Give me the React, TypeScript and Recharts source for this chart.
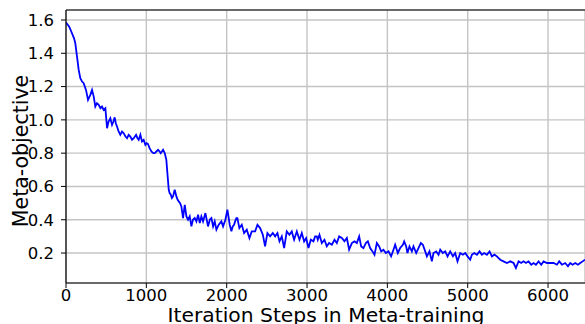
import React from "react";
import { LineChart, Line, XAxis, YAxis, CartesianGrid, ReferenceLine, Label } from "recharts";

const steps = [
  0, 40, 75, 100, 116, 137, 158, 178, 200, 220, 249, 274, 303, 324, 345, 365, 385, 407, 428, 448,
  469, 490, 511, 530, 552, 573, 590, 606, 620, 635, 655, 676, 697, 718, 740, 760, 780, 801, 822, 843,
  872, 890, 905, 926, 946, 967, 988, 1005, 1021, 1040, 1063, 1087, 1104, 1125, 1146, 1165, 1179, 1194, 1208, 1229,
  1249, 1262, 1279, 1290, 1304, 1318, 1332, 1353, 1374, 1390, 1403, 1420, 1436, 1457, 1478, 1499, 1519, 1540, 1561, 1580,
  1602, 1623, 1644, 1665, 1685, 1706, 1735, 1768, 1790, 1810, 1831, 1851, 1872, 1901, 1934, 1955, 1984, 2009, 2038, 2059,
  2075, 2092, 2105, 2121, 2133, 2158, 2188, 2217, 2250, 2283, 2312, 2354, 2383, 2416, 2450, 2478, 2507, 2540, 2574, 2603,
  2632, 2657, 2686, 2715, 2748, 2781, 2810, 2839, 2873, 2906, 2935, 2964, 2989, 3018, 3047, 3080, 3101, 3122, 3134, 3155,
  3184, 3217, 3246, 3275, 3309, 3342, 3371, 3400, 3433, 3466, 3496, 3524, 3558, 3590, 3620, 3649, 3674, 3702, 3732, 3757,
  3786, 3815, 3840, 3869, 3898, 3923, 3951, 3981, 4014, 4047, 4076, 4097, 4130, 4159, 4193, 4209, 4234, 4250, 4275, 4305,
  4325, 4359, 4387, 4417, 4442, 4471, 4492, 4524, 4554, 4574, 4608, 4637, 4658, 4691, 4720, 4749, 4782, 4816, 4844, 4873,
  4907, 4940, 4969, 4998, 5031, 5052, 5081, 5115, 5147, 5177, 5205, 5239, 5272, 5301, 5334, 5363, 5405, 5446, 5488, 5529,
  5571, 5600, 5633, 5666, 5695, 5725, 5757, 5791, 5820, 5849, 5882, 5915, 5944, 5986, 6027, 6069, 6111, 6139, 6173, 6214,
  6248, 6276, 6305, 6339, 6372, 6401, 6430, 6459,
];

const metaObjective = [
  1.585, 1.56, 1.52, 1.49, 1.46, 1.38, 1.30, 1.25, 1.23, 1.22, 1.18, 1.12, 1.15, 1.18, 1.14, 1.08, 1.10, 1.09, 1.07, 1.08,
  1.06, 1.07, 0.95, 0.99, 1.01, 0.97, 0.99, 1.015, 0.98, 0.96, 0.93, 0.91, 0.93, 0.92, 0.90, 0.89, 0.91, 0.90, 0.88, 0.89,
  0.91, 0.89, 0.88, 0.91, 0.87, 0.88, 0.85, 0.86, 0.855, 0.83, 0.81, 0.80, 0.80, 0.81, 0.82, 0.81, 0.80, 0.81, 0.82, 0.80,
  0.76, 0.68, 0.58, 0.56, 0.55, 0.53, 0.54, 0.58, 0.54, 0.52, 0.51, 0.50, 0.48, 0.41, 0.49, 0.42, 0.40, 0.42, 0.36, 0.40,
  0.41, 0.39, 0.43, 0.38, 0.42, 0.39, 0.44, 0.36, 0.40, 0.41, 0.36, 0.39, 0.34, 0.37, 0.39, 0.36, 0.40, 0.46, 0.37, 0.33,
  0.36, 0.37, 0.39, 0.41, 0.41, 0.35, 0.37, 0.32, 0.34, 0.29, 0.33, 0.33, 0.37, 0.35, 0.31, 0.24, 0.32, 0.30, 0.32, 0.30,
  0.32, 0.27, 0.30, 0.23, 0.33, 0.31, 0.33, 0.28, 0.33, 0.28, 0.32, 0.27, 0.29, 0.23, 0.28, 0.27, 0.30, 0.30, 0.28, 0.31,
  0.26, 0.28, 0.24, 0.26, 0.25, 0.28, 0.26, 0.30, 0.29, 0.27, 0.29, 0.22, 0.26, 0.27, 0.26, 0.30, 0.24, 0.23, 0.26, 0.27,
  0.23, 0.21, 0.19, 0.26, 0.24, 0.21, 0.22, 0.20, 0.21, 0.18, 0.22, 0.25, 0.20, 0.23, 0.25, 0.27, 0.24, 0.20, 0.24, 0.21,
  0.24, 0.20, 0.23, 0.26, 0.25, 0.21, 0.18, 0.21, 0.15, 0.20, 0.21, 0.19, 0.22, 0.20, 0.21, 0.18, 0.21, 0.18, 0.20, 0.15,
  0.20, 0.19, 0.20, 0.18, 0.16, 0.19, 0.20, 0.19, 0.21, 0.19, 0.20, 0.19, 0.21, 0.18, 0.19, 0.18, 0.16, 0.15, 0.14, 0.15,
  0.14, 0.11, 0.15, 0.14, 0.15, 0.14, 0.15, 0.13, 0.14, 0.13, 0.15, 0.13, 0.15, 0.14, 0.14, 0.14, 0.13, 0.15, 0.13, 0.14,
  0.12, 0.14, 0.13, 0.14, 0.13, 0.14, 0.15, 0.16,
];

const xTicks = [0, 1000, 2000, 3000, 4000, 5000, 6000];
const yTicks = [0.2, 0.4, 0.6, 0.8, 1.0, 1.2, 1.4, 1.6];
const xDomain = [0, 6460];
const yDomain = [0.02, 1.66];
const xTitle = "Iteration Steps in Meta-training";
const yTitle = "Meta-objective";

const data = steps.map((s, i) => ({ step: s, v: metaObjective[i] }));

const FONT = "'DejaVu Sans', sans-serif";

export default function App() {
  return (
    <div style={{ position: "absolute", left: 0, top: 0, width: 585, height: 324, overflow: "hidden", background: "#fff" }}>
      <LineChart width={585} height={324} data={data} margin={{ top: 10, right: 0, bottom: 0, left: 0 }}>
        <CartesianGrid stroke="#c4c4c4" strokeWidth={1.4} />
        <XAxis
          dataKey="step"
          type="number"
          domain={xDomain}
          ticks={xTicks}
          height={41}
          tickSize={5}
          tickMargin={1}
          stroke="#000"
          tick={{ fill: "#000", fontSize: 16.5, fontFamily: FONT }}
          axisLine={{ stroke: "#000", strokeWidth: 1.2 }}
          tickLine={{ stroke: "#000", strokeWidth: 1 }}
          allowDataOverflow
        >
          <Label
            content={() => (
              <text x={326} y={321.5} textAnchor="middle" fontSize={20.3} fontFamily={FONT} fill="#000">
                {xTitle}
              </text>
            )}
          />
        </XAxis>
        <YAxis
          type="number"
          domain={yDomain}
          ticks={yTicks}
          width={66}
          tickSize={5}
          tickMargin={7}
          tickFormatter={(v: number) => v.toFixed(1)}
          tick={{ fill: "#000", fontSize: 16.5, fontFamily: FONT }}
          axisLine={{ stroke: "#000", strokeWidth: 1.2 }}
          tickLine={{ stroke: "#000", strokeWidth: 1 }}
          allowDataOverflow
        >
          <Label
            content={() => (
              <text
                x={27.5}
                y={151}
                textAnchor="middle"
                fontSize={20.5}
                fontFamily={FONT}
                fill="#000"
                transform="rotate(-90, 27.5, 151)"
              >
                {yTitle}
              </text>
            )}
          />
        </YAxis>
        <ReferenceLine y={yDomain[1]} stroke="#000" strokeWidth={1.2} ifOverflow="visible" />
        <Line
          type="linear"
          dataKey="v"
          stroke="#0000ff"
          strokeWidth={1.8}
          dot={false}
          isAnimationActive={false}
        />
      </LineChart>
    </div>
  );
}
